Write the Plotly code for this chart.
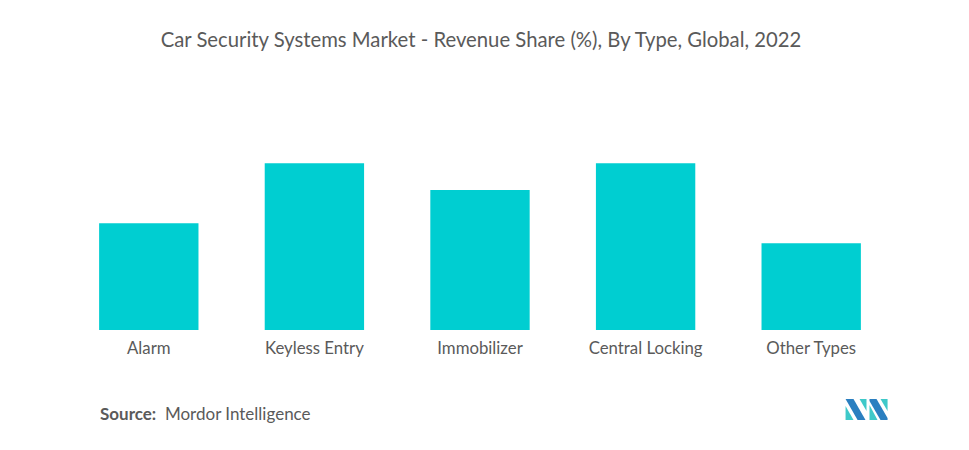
import plotly.graph_objects as go

categories = ["Alarm", "Keyless Entry", "Immobilizer", "Central Locking", "Other Types"]
shares = [16, 25, 21, 25, 13]

BAR_COLOR = "#00CED1"
TEXT_COLOR = "#5a5a5a"
FONT = "Lato, 'Open Sans', sans-serif"

W, H = 969, 450
OFF = 8  # page offset of the rendered figure
L, R, T, B = 65.5 - OFF, 74.5 + OFF, 130 - OFF, 120 + OFF
pw, ph = W - L - R, H - T - B

fig = go.Figure(go.Bar(
    x=categories, y=shares, marker=dict(color=BAR_COLOR, line=dict(width=0)),
    width=0.6, hoverinfo="x+y",
))

def px2paper(x, y):
    x, y = x - OFF, y - OFF
    return (x - L) / pw, (H - B - y) / ph

def path(points):
    pts = [px2paper(x, y) for x, y in points]
    return "M " + " L ".join(f"{a:.4f},{b:.4f}" for a, b in pts) + " Z"

logo = [
    ([(846, 406), (846, 420), (854, 420)], "#3ec9c9"),
    ([(846, 399), (854, 399), (866, 420), (858, 420)], "#2a7fc0"),
    ([(860, 399), (867, 399), (867, 411)], "#3ec9c9"),
    ([(870, 399), (877, 399), (888, 418), (888, 420), (881, 420), (870, 401)], "#2a7fc0"),
    ([(870, 405), (870, 420), (878, 420)], "#3ec9c9"),
    ([(881, 399), (888, 399), (888, 411)], "#3ec9c9"),
]
shapes = [dict(type="path", xref="paper", yref="paper", path=path(p), fillcolor=c,
               line=dict(width=0), layer="above") for p, c in logo]

sx, sy = px2paper(98, 413)

fig.update_layout(
    width=W, height=H,
    margin=dict(l=L, r=R, t=T, b=B),
    paper_bgcolor="white", plot_bgcolor="white",
    font=dict(family=FONT, color=TEXT_COLOR),
    title=dict(text="Car Security Systems Market - Revenue Share (%), By Type, Global, 2022",
               xref="container", x=(481 - OFF) / W, xanchor="center",
               y=1 - (40 - OFF) / H, yanchor="middle",
               font=dict(size=20.3, color=TEXT_COLOR, family=FONT)),
    xaxis=dict(showgrid=False, showline=False, zeroline=False, ticks="",
               ticklabelstandoff=6,
               tickfont=dict(size=16.8, color=TEXT_COLOR, family=FONT)),
    yaxis=dict(visible=False, range=[0, 30]),
    bargap=0.4,
    showlegend=False,
    shapes=shapes,
    annotations=[dict(text="<b>Source:</b>  Mordor Intelligence", xref="paper", yref="paper",
                      x=sx, y=sy, xanchor="left", yanchor="middle", showarrow=False,
                      font=dict(size=17, color=TEXT_COLOR, family=FONT))],
)

fig.write_html("out.html")
